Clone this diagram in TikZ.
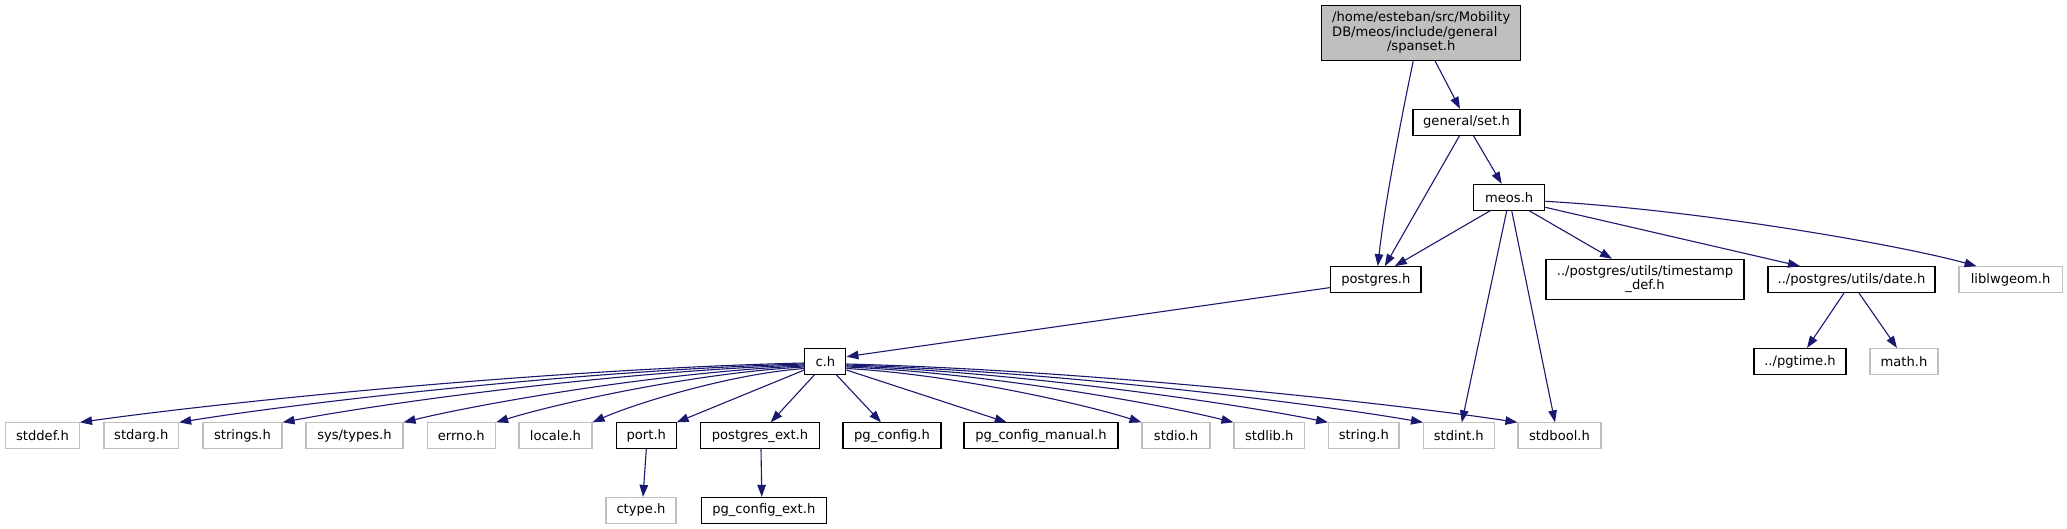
\documentclass[tikz,border=0pt]{standalone}
\usepackage{fontspec}
\setmainfont{DejaVu Sans}
\usetikzlibrary{arrows.meta,calc}
\definecolor{edgec}{HTML}{191970}
\definecolor{greyl}{HTML}{BFBFBF}
\newcommand\dvfont{\fontsize{13.1}{14.5}\selectfont}
\begin{document}
\begin{tikzpicture}[x=1pt,y=-1pt,
  box/.style={draw=black, line width=1.1pt, fill=white, inner sep=0pt, minimum height=25.8pt, font=\dvfont, text=black},
  ext/.style={box, draw=greyl},
  dep/.style={draw=edgec, line width=1.1pt, -{Triangle[length=12pt,width=8.5pt]}}]
\fill[white] (0,0) rectangle (2067,529);
\useasboundingbox (0,0) rectangle (2067,529);
% nodes
\node[box, fill=greyl, minimum width=199pt, minimum height=55pt] (root) at (1421.2,33.2)
  {\begin{tabular}{@{}l@{}}/home/esteban/src/Mobility\\DB/meos/include/general\\\multicolumn{1}{@{}c@{}}{/spanset.h}\end{tabular}};
\node[box, minimum width=107pt] (set) at (1466.5,122.3) {general/set.h};
\node[box, minimum width=71pt] (meos) at (1509.2,197.3) {meos.h};
\node[box, minimum width=90.4pt] (postgres) at (1375.8,279.6) {postgres.h};
\node[box, minimum width=198pt, minimum height=40pt, align=center] (tsdef) at (1645,279.3) {../postgres/utils/timestamp\\\_def.h};
\node[box, minimum width=167pt] (date) at (1851.5,279.6) {../postgres/utils/date.h};
\node[ext, minimum width=103.3pt] (lwgeom) at (2010.6,279.6) {liblwgeom.h};
\node[box, minimum width=41pt] (c) at (825.4,361.4) {c.h};
\node[box, minimum width=92pt] (pgtime) at (1800,361.4) {../pgtime.h};
\node[ext, minimum width=68pt] (math) at (1904,361.4) {math.h};
\node[ext, minimum width=74pt] (stddef) at (42.5,435.8) {stddef.h};
\node[ext, minimum width=74.6pt] (stdarg) at (141.3,435.8) {stdarg.h};
\node[ext, minimum width=79pt] (strings) at (242.5,435.8) {strings.h};
\node[ext, minimum width=97pt] (systypes) at (354.5,435.8) {sys/types.h};
\node[ext, minimum width=68.5pt] (errno) at (461.3,435.8) {errno.h};
\node[ext, minimum width=73pt] (locale) at (555.5,435.8) {locale.h};
\node[box, minimum width=59.5pt] (port) at (646.3,435.8) {port.h};
\node[box, minimum width=119pt] (pgext) at (760,435.8) {postgres\_ext.h};
\node[box, minimum width=98pt] (pgconfig) at (892,435.8) {pg\_config.h};
\node[box, minimum width=154pt] (pgmanual) at (1041,435.8) {pg\_config\_manual.h};
\node[ext, minimum width=68pt] (stdio) at (1176,435.8) {stdio.h};
\node[ext, minimum width=70.6pt] (stdlib) at (1269.3,435.8) {stdlib.h};
\node[ext, minimum width=70.4pt] (string) at (1363.8,435.8) {string.h};
\node[ext, minimum width=70.5pt] (stdint) at (1458.8,435.8) {stdint.h};
\node[ext, minimum width=83pt] (stdbool) at (1559.5,435.8) {stdbool.h};
\node[ext, minimum width=70pt] (ctype) at (641,510.3) {ctype.h};
\node[box, minimum width=125.5pt] (pgcfgext) at (763.8,510.3) {pg\_config\_ext.h};
% edges
\draw[dep] ($(root.south)+(14,0)$) -- ($(set.north)+(-6.5,0)$);
\draw[dep] ($(root.south)+(-8,0)$) .. controls (1405,100) and (1385,200) .. ($(postgres.north)+(2,0)$);
\draw[dep] ($(set.south)+(-7,0)$) -- ($(postgres.north)+(9,0)$);
\draw[dep] ($(set.south)+(7,0)$) -- ($(meos.north)+(-7.5,0)$);
\draw[dep] ($(meos.south)+(-19,0)$) -- ($(postgres.north)+(19,0)$);
\draw[dep] ($(meos.south)+(-2.5,0)$) -- ($(stdint.north)+(3,0)$);
\draw[dep] ($(meos.south)+(2.5,0)$) -- ($(stdbool.north)+(-4.5,0)$);
\draw[dep] ($(meos.south)+(20,0)$) -- ($(tsdef.north)+(-33,0)$);
\draw[dep] ($(meos.east)+(0,10)$) -- ($(date.north)+(-51.5,0)$);
\draw[dep] ($(meos.east)+(0,4)$) .. controls (1700,210) and (1900,245) .. ($(lwgeom.north)+(-34,0)$);
\draw[dep] ($(postgres.west)+(0,8)$) -- ($(c.east)+(0,-4.7)$);
\draw[dep] ($(date.south)+(-7.5,0)$) -- ($(pgtime.north)+(7,0)$);
\draw[dep] ($(date.south)+(7.5,0)$) -- ($(math.north)+(-7,0)$);
\draw[dep] (port.south) -- ($(ctype.north)+(2,0)$);
\draw[dep] ($(pgext.south)+(1,0)$) -- ($(pgcfgext.north)+(-2,0)$);
% c.h left fan
\draw[dep] ($(c.west)+(0,1.6)$) .. controls (551.1,369) and (224.6,401.8) .. (stddef.north east);
\draw[dep] ($(c.west)+(0,2.6)$) .. controls (585.8,369.9) and (303.9,402.2) .. (stdarg.north east);
\draw[dep] ($(c.west)+(0,3.6)$) .. controls (622,370.8) and (386.6,402.5) .. (strings.north east);
\draw[dep] ($(c.west)+(0,4.6)$) .. controls (664.3,371.7) and (483.4,402.9) .. (systypes.north east);
\draw[dep] ($(c.west)+(0,5.6)$) .. controls (696.7,372.6) and (557.4,403.2) .. (errno.north east);
\draw[dep] ($(c.west)+(0,7.1)$) .. controls (730.4,373.9) and (634.6,403.7) .. (locale.north east);
\draw[dep] ($(c.west)+(0,8.6)$) -- (port.north east);
\draw[dep] ($(c.south)+(-11,0)$) -- ($(pgext.north)+(10.7,0)$);
\draw[dep] ($(c.south)+(11,0)$) -- ($(pgconfig.north)+(-11,0)$);
\draw[dep] ($(c.east)+(0,8.6)$) -- ($(pgmanual.north)+(-34.3,0)$);
% c.h right fan
\draw[dep] ($(c.east)+(0,7.1)$) .. controls (949.6,373.9) and (1082.8,403.7) .. (stdio.north west);
\draw[dep] ($(c.east)+(0,5.6)$) .. controls (981.8,372.6) and (1156.4,403.2) .. (stdlib.north west);
\draw[dep] ($(c.east)+(0,4.6)$) .. controls (1014.9,371.7) and (1232.1,402.9) .. (string.north west);
\draw[dep] ($(c.east)+(0,3.6)$) .. controls (1048.1,370.8) and (1308,402.5) .. (stdint.north west);
\draw[dep] ($(c.east)+(0,2.6)$) .. controls (1081.2,369.9) and (1383.6,402.2) .. (stdbool.north west);
\end{tikzpicture}
\end{document}
